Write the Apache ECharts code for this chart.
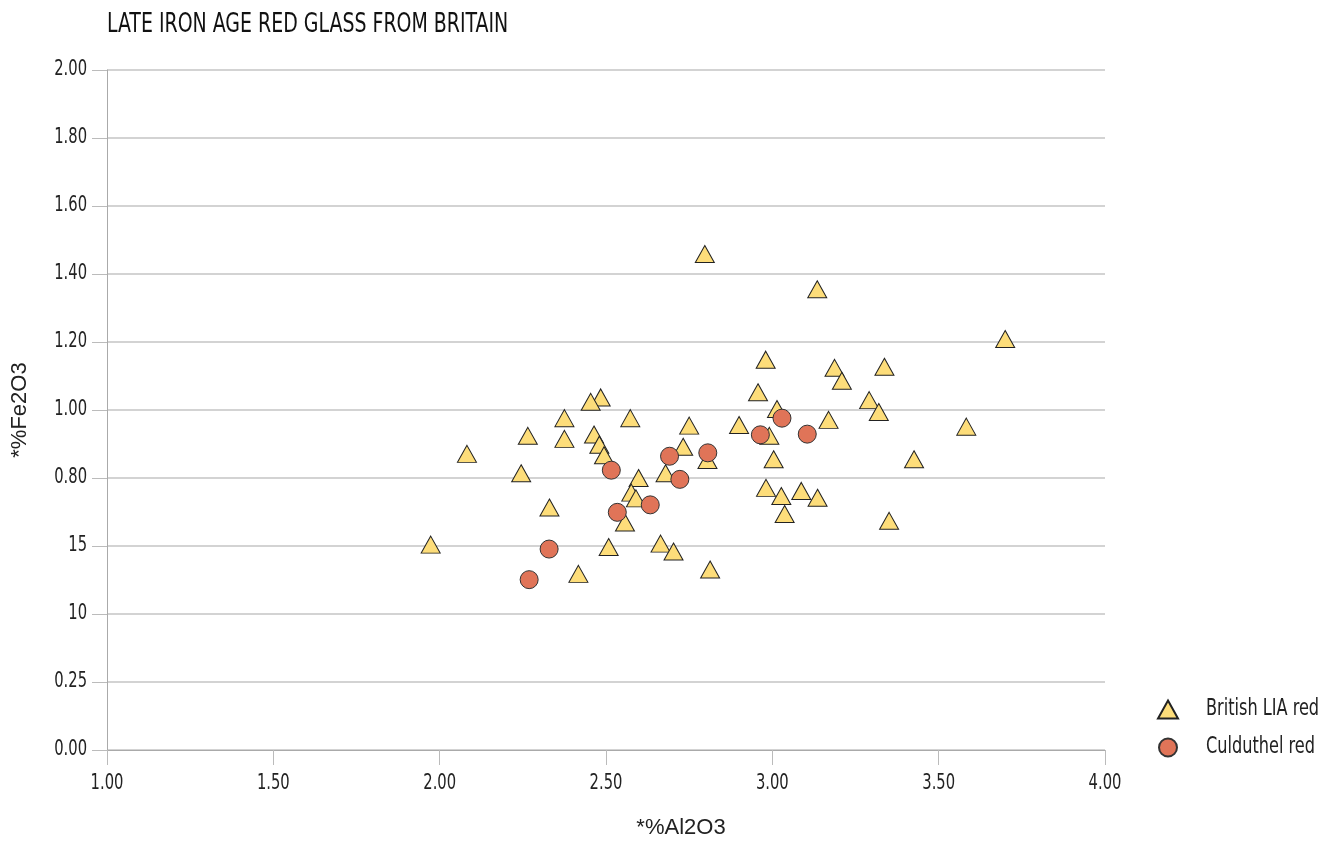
<!DOCTYPE html>
<html><head><meta charset="utf-8">
<script src="https://cdn.jsdelivr.net/npm/echarts@6/dist/echarts.min.js"></script>
<style>html,body{margin:0;padding:0;background:#fff}#c{width:1324px;height:841px}</style>
</head><body><div id="c"></div>
<script>
const title = 'LATE IRON AGE RED GLASS FROM BRITAIN';
const xTitle = '*%Al2O3';
const yTitle = '*%Fe2O3';
const seriesNames = ['British LIA red', 'Culduthel red'];
const yTickLabels = ['0.00','0.25','10','15','0.80','1.00','1.20','1.40','1.60','1.80','2.00'];
const xTickLabels = ['1.00','1.50','2.00','2.50','3.00','3.50','4.00'];

const britishAl = [2.797,3.135,3.700,2.980,3.187,3.209,3.337,2.957,3.291,3.320,3.014,3.583,2.900,3.169,2.991,3.004,2.805,3.426,2.981,3.027,3.087,3.136,3.037,3.351,
  2.484,2.454,2.375,2.573,2.750,2.265,2.375,2.464,2.480,2.494,2.082,2.732,2.245,2.598,2.576,2.590,2.679,2.330,2.557,1.973,2.508,2.664,2.703,2.417,2.813];
const britishFe = [1.459,1.355,1.209,1.148,1.124,1.086,1.127,1.052,1.029,0.994,1.003,0.951,0.956,0.971,0.924,0.855,0.853,0.855,0.771,0.747,0.762,0.742,0.694,0.674,
  1.037,1.024,0.976,0.976,0.954,0.924,0.915,0.928,0.898,0.867,0.871,0.892,0.814,0.800,0.757,0.740,0.814,0.713,0.669,0.604,0.597,0.607,0.584,0.518,0.531];
const culAl = [2.516,2.534,2.633,2.691,2.722,2.806,2.329,2.269,3.029,2.964,3.105];
const culFe = [0.823,0.699,0.721,0.864,0.796,0.874,0.591,0.501,0.976,0.927,0.929];

// condensed look: draw "Narrow" text horizontally compressed around its anchor
(function(){
  const proto = CanvasRenderingContext2D.prototype;
  const orig = proto.fillText;
  proto.fillText = function(t, x, y, mw){
    if (/Narrow/.test(this.font)) {
      this.save(); this.translate(x, y); this.scale(0.78, 1);
      orig.call(this, t, 0, 0); this.restore();
    } else if (mw !== undefined) orig.call(this, t, x, y, mw);
    else orig.call(this, t, x, y);
  };
})();

const NARROW = "'Liberation Sans Narrow','DejaVu Sans Condensed',sans-serif";
const REG = "'Liberation Sans','DejaVu Sans',sans-serif";
const zip = (a,b)=>a.map((v,i)=>[v,b[i]]);

const chart = echarts.init(document.getElementById('c'), null, {renderer:'canvas'});
chart.setOption({
  animation:false,
  backgroundColor:'#fff',
  title:{text:title,left:102,top:6,textStyle:{fontFamily:NARROW,fontSize:27,fontWeight:'normal',color:'#111'}},
  grid:{left:107,right:219,top:70,bottom:91,outerBoundsMode:'none',containLabel:false},
  legend:{orient:'vertical',left:1152,top:693,itemGap:15,itemWidth:20,itemHeight:18,
    textStyle:{fontFamily:NARROW,fontSize:23,color:'#222',padding:[0,0,0,23]},data:seriesNames},
  xAxis:{type:'value',min:1,max:4,interval:0.5,
    name:xTitle,nameLocation:'middle',nameGap:67,
    nameTextStyle:{fontFamily:REG,fontSize:22,color:'#222',padding:[0,0,0,150]},
    axisLine:{show:true,onZero:false,lineStyle:{color:'#aaa',width:1}},
    axisTick:{show:true,length:15,lineStyle:{color:'#bbb'}},
    axisLabel:{fontFamily:NARROW,fontSize:21,color:'#222',margin:23,
      formatter:v=>xTickLabels[Math.round((v-1)/0.5)]},
    splitLine:{show:false}},
  yAxis:{type:'value',min:0,max:2,interval:0.2,
    name:yTitle,nameLocation:'middle',nameGap:76,nameRotate:90,
    nameTextStyle:{fontFamily:REG,fontSize:22,color:'#222'},
    axisLine:{show:true,lineStyle:{color:'#aaa',width:1}},
    axisTick:{show:true,length:15,lineStyle:{color:'#bbb'}},
    axisLabel:{fontFamily:NARROW,fontSize:21,color:'#222',margin:20,
      formatter:v=>yTickLabels[Math.round(v/0.2)]},
    splitLine:{show:true,lineStyle:{color:'#c4c4c4',width:1.5}}},
  series:[
    {name:seriesNames[0],type:'scatter',symbol:'triangle',symbolSize:[19,17],
      itemStyle:{color:'#FDDD7A',borderColor:'#222',borderWidth:1,opacity:1},
      data:zip(britishAl,britishFe)},
    {name:seriesNames[1],type:'scatter',symbol:'circle',symbolSize:18,
      itemStyle:{color:'#E07458',borderColor:'#333',borderWidth:1,opacity:1},
      data:zip(culAl,culFe)}
  ]
});
</script></body></html>
